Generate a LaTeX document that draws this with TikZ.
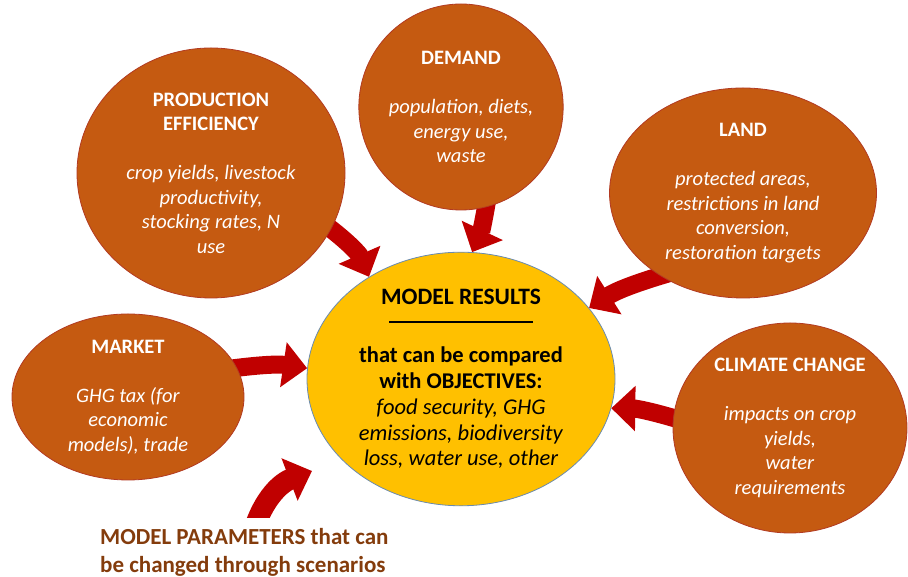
\documentclass[tikz,border=0pt]{standalone}
\usepackage{fontspec}
\setmainfont{Carlito}
\usetikzlibrary{arrows.meta,shapes.geometric}
\pgfdeclarelayer{bg}
\pgfsetlayers{bg,main}
\definecolor{circfill}{HTML}{C55A11}
\definecolor{circline}{HTML}{B23A22}
\definecolor{resfill}{HTML}{FFC000}
\definecolor{resline}{HTML}{6A8BB0}
\definecolor{arrowred}{HTML}{C00000}
\definecolor{paramtext}{HTML}{843C0C}
\begin{document}
\begin{tikzpicture}[x=1pt,y=1pt,
  factor/.style={ellipse, fill=circfill, draw=circline, line width=0.8pt, text=white,
    align=center, inner sep=0pt, font=\fontsize{20.5}{24.5}\selectfont},
  result/.style={ellipse, fill=resfill, draw=resline, line width=0.8pt, text=black,
    align=center, inner sep=0pt, font=\fontsize{22.5}{25.5}\selectfont},
  bigarrow/.style={draw=arrowred, line width=18pt,
    -{Triangle[width=44pt,length=24pt]}, shorten <=-10pt},
  paramlabel/.style={text=paramtext, align=left, inner sep=0pt,
    font=\fontsize{23}{28}\selectfont\bfseries}
]
\useasboundingbox (0,0) rectangle (908,577);

\node[factor, minimum width=268pt, minimum height=250pt] (prod) at (211,404)
  {\textbf{PRODUCTION}\\\textbf{EFFICIENCY}\\[24.5pt]\textit{crop yields, livestock}\\\textit{productivity,}\\\textit{stocking rates, N}\\\textit{use}};
\node[factor, minimum width=198pt, minimum height=206pt] (dem) at (461,470)
  {\textbf{DEMAND}\\[24.5pt]\textit{population, diets,}\\\textit{energy use,}\\\textit{waste}};
\node[factor, minimum width=267pt, minimum height=210pt] (land) at (743,384)
  {\textbf{LAND}\\[24.5pt]\textit{protected areas,}\\\textit{restrictions in land}\\\textit{conversion,}\\\textit{restoration targets}};
\node[factor, minimum width=232pt, minimum height=166pt] (mkt) at (128,180)
  {\textbf{MARKET}\\[24.5pt]\textit{GHG tax (for}\\\textit{economic}\\\textit{models), trade}};
\node[factor, minimum width=234pt, minimum height=210pt] (clim) at (790,149)
  {\textbf{CLIMATE CHANGE}\\[24.5pt]\textit{impacts on crop}\\\textit{yields,}\\\textit{water}\\\textit{requirements}};

\node[result, minimum width=308pt, minimum height=248pt] (res) at (461,198)
  {\textbf{\fontsize{23.5}{25.5}\selectfont MODEL RESULTS}\\[-7pt]\rule{144pt}{2pt}\\[14pt]\textbf{that can be compared}\\\textbf{with OBJECTIVES:}\\[1pt]\textit{food security, GHG}\\\textit{emissions, biodiversity}\\\textit{loss, water use, other}};

\node[paramlabel, anchor=north west] (params) at (100,49)
  {MODEL PARAMETERS that can\\be changed through scenarios};
\coordinate (pstart) at (250,30);
\coordinate (ptip) at (312,106);

\begin{pgfonlayer}{bg}
  \draw[bigarrow] (prod.-25) to[bend left=15] (res.132);
  \draw[bigarrow] (dem.-76) to[bend left=8] (res.85);
  \draw[bigarrow] (land.-135) to[bend right=8] (res.29);
  \draw[bigarrow] (mkt.15) to[bend left=8] (res.176);
  \draw[bigarrow] (clim.175) to[bend right=8] (res.-11);
  \begin{scope}
    \clip (0,59) rectangle (908,577);
    \draw[bigarrow, line width=21pt, shorten <=0pt] (pstart) to[bend left=30] (ptip);
  \end{scope}
\end{pgfonlayer}
\end{tikzpicture}
\end{document}
